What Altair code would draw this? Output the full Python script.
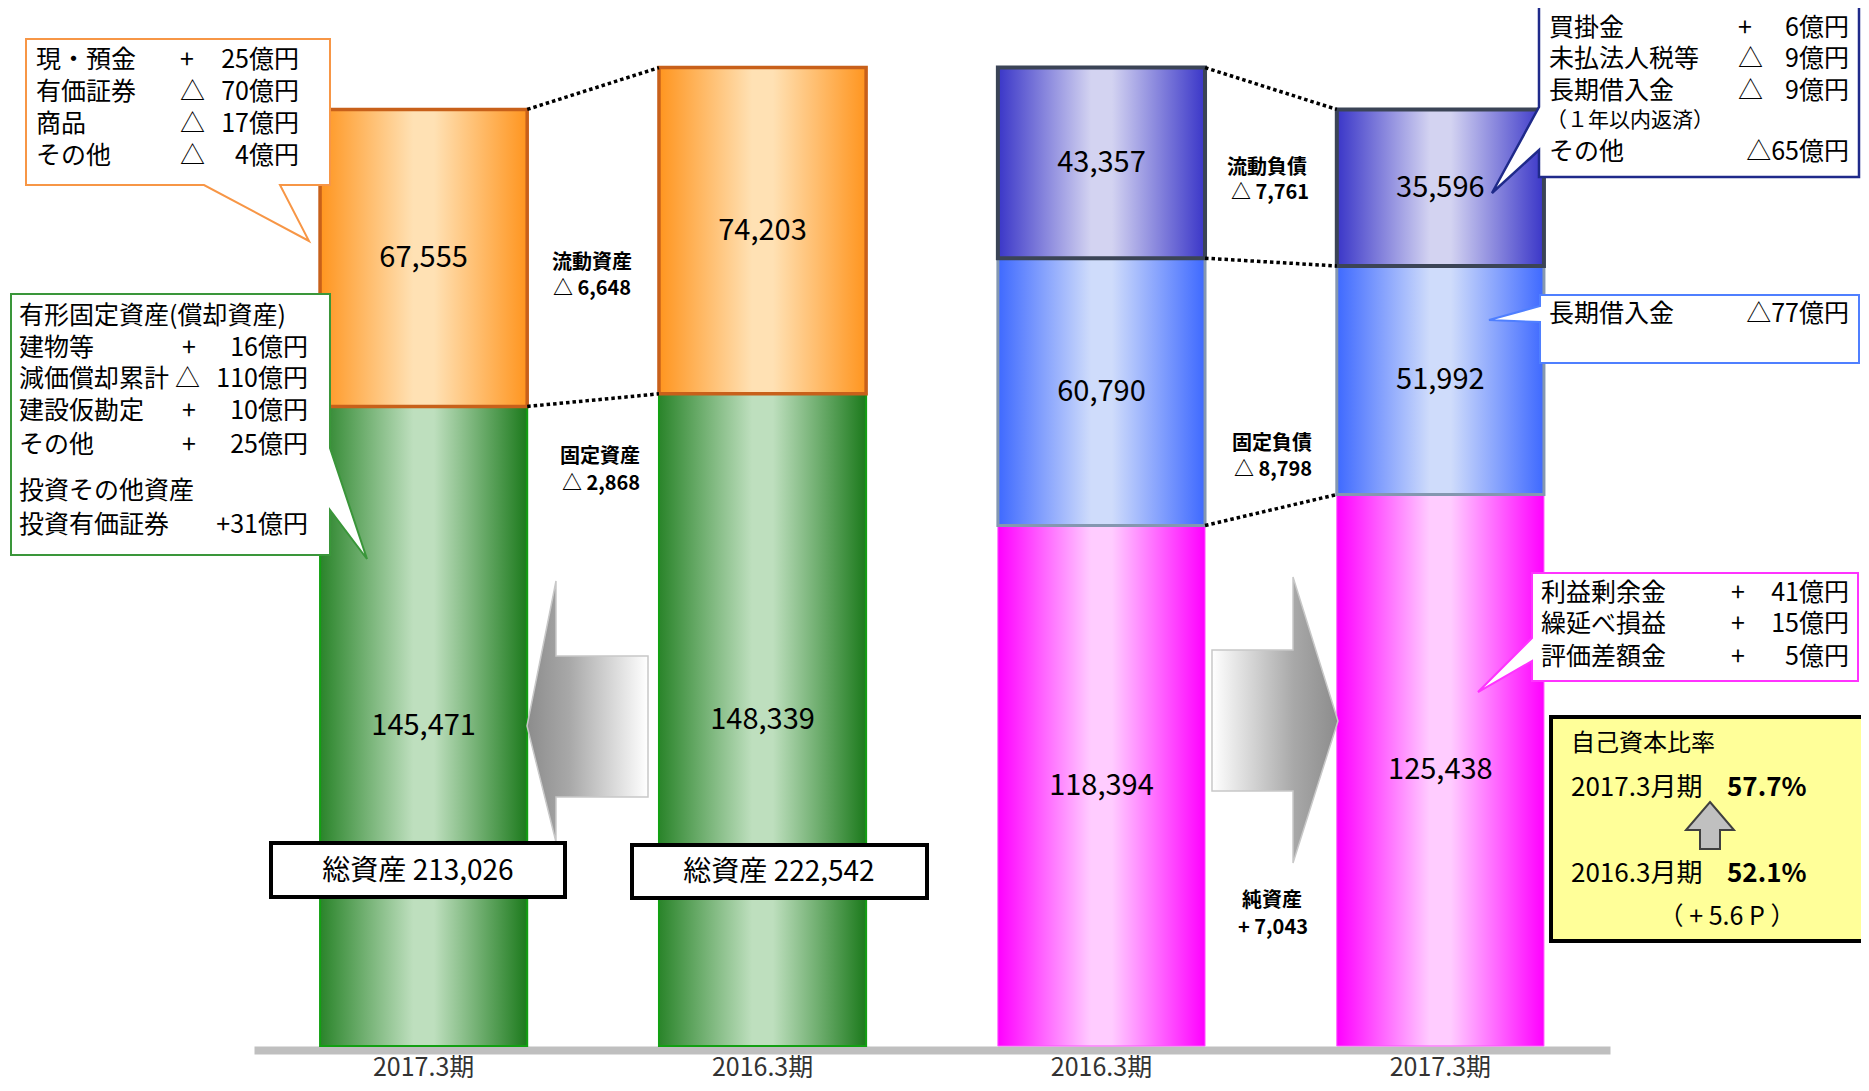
import altair as alt
import pandas as pd

FONT = "Noto Sans CJK JP"

# ---------------- data ----------------
col_keys = ["A17", "A16", "L16", "L17"]
col_labels = ["2017.3期", "2016.3期", "2016.3期", "2017.3期"]

asset_cols = ["A17", "A16"]
fixed_assets = [145471, 148339]
current_assets = [67555, 74203]
total_assets = [213026, 222542]

liab_cols = ["L16", "L17"]
net_assets = [118394, 125438]
fixed_liab = [60790, 51992]
current_liab = [43357, 35596]

# ---------------- stacked segment table ----------------
rows = []
for c, fa, ca in zip(asset_cols, fixed_assets, current_assets):
    rows.append(dict(col=c, seg="fixed_a", y0=0, y1=fa, value=fa))
    rows.append(dict(col=c, seg="current_a", y0=fa, y1=fa + ca, value=ca))
for c, na, fl, cl in zip(liab_cols, net_assets, fixed_liab, current_liab):
    rows.append(dict(col=c, seg="net", y0=0, y1=na, value=na))
    rows.append(dict(col=c, seg="fixed_l", y0=na, y1=na + fl, value=fl))
    rows.append(dict(col=c, seg="current_l", y0=na + fl, y1=na + fl + cl, value=cl))
seg_df = pd.DataFrame(rows)
seg_df["mid"] = (seg_df["y0"] + seg_df["y1"]) / 2

# connector lines between neighbouring bars
conn_df = pd.DataFrame([
    dict(a="A17", b="A16", ya=total_assets[0], yb=total_assets[1]),
    dict(a="A17", b="A16", ya=fixed_assets[0], yb=fixed_assets[1]),
    dict(a="L16", b="L17", ya=net_assets[0] + fixed_liab[0] + current_liab[0],
         yb=net_assets[1] + fixed_liab[1] + current_liab[1]),
    dict(a="L16", b="L17", ya=net_assets[0] + fixed_liab[0], yb=net_assets[1] + fixed_liab[1]),
    dict(a="L16", b="L17", ya=net_assets[0], yb=net_assets[1]),
])

# ---------------- scales ----------------
W, H = 1853, 1038
label_expr = " : ".join(
    f"datum.value == '{k}' ? '{l}'" for k, l in zip(col_keys, col_labels)
) + " : ''"
xscale = alt.Scale(domain=col_keys, range=[246, 1602], paddingInner=0.3888,
                   paddingOuter=0.1949, round=False)
xaxis = alt.Axis(title=None, labelExpr=label_expr, labelFont=FONT, labelFontSize=25,
                 labelColor="#333333", labelPadding=5, ticks=False, tickSize=0,
                 domain=True, domainColor="#BFBFBF", domainWidth=8, offset=4,
                 grid=False, labelAngle=0)
yscale = alt.Scale(domain=[0, 236100], nice=False, zero=True)


def hgrad(edge, mid, edge2=None):
    return alt.LinearGradient(
        gradient="linear", x1=0, x2=1, y1=0, y2=0,
        stops=[alt.GradientStop(color=edge, offset=0),
               alt.GradientStop(color=mid, offset=0.45),
               alt.GradientStop(color=mid, offset=0.55),
               alt.GradientStop(color=edge2 or edge, offset=1)])


seg_styles = [
    ("fixed_a", hgrad("#2A842A", "#BEDFBE", "#1C7A1C"), "#12A012", 2),
    ("current_a", hgrad("#FF951F", "#FFE1B4"), "#C8601A", 3.5),
    ("net", hgrad("#FF00FF", "#FFCCFF"), "#FF55FF", 1),
    ("fixed_l", hgrad("#3E69FF", "#CFDCFB"), "#8497B0", 3),
    ("current_l", hgrad("#3A36C8", "#D3D3F1"), "#3B4456", 4),
]

layers = []
for seg, grad, stroke, sw in seg_styles:
    layers.append(
        alt.Chart(seg_df).transform_filter(alt.datum.seg == seg)
        .mark_bar(fill=grad, stroke=stroke, strokeWidth=sw)
        .encode(x=alt.X("col:N", scale=xscale, axis=xaxis),
                y=alt.Y("y0:Q", scale=yscale, axis=None),
                y2="y1:Q")
    )

# dotted connectors
layers.append(
    alt.Chart(conn_df).mark_rule(color="black", strokeWidth=3.5, strokeDash=[3.5, 3])
    .encode(x=alt.X("a:N", scale=xscale, axis=xaxis, bandPosition=1),
            x2=alt.X2("b:N", bandPosition=0),
            y=alt.Y("ya:Q", scale=yscale, axis=None),
            y2="yb:Q")
)

# ---------------- decorative shapes (page pixel polygons) ----------------
def shape_layer(points, fill, stroke, sw):
    xs = [p[0] for p in points]
    ys = [p[1] for p in points]
    cx = (min(xs) + max(xs)) / 2
    cy = (min(ys) + max(ys)) / 2
    s = max(max(xs) - min(xs), max(ys) - min(ys)) / 2
    path = "M" + " L".join(f"{(x - cx) / s:.4f},{(y - cy) / s:.4f}" for x, y in points) + " Z"
    return (alt.Chart(alt.Data(values=[{"k": 1}]))
            .mark_point(shape=path, size=(2 * s) ** 2, filled=True, fill=fill,
                        stroke=stroke, strokeWidth=sw, opacity=1, fillOpacity=1, strokeOpacity=1)
            .encode(x=alt.value(cx - 8), y=alt.value(cy - 8)))


arrow_left_grad = alt.LinearGradient(gradient="linear", x1=0, x2=1, y1=0, y2=0, stops=[
    alt.GradientStop(color="#8C8C8C", offset=0), alt.GradientStop(color="#A8A8A8", offset=0.35),
    alt.GradientStop(color="#FFFFFF", offset=1)])
arrow_right_grad = alt.LinearGradient(gradient="linear", x1=0, x2=1, y1=0, y2=0, stops=[
    alt.GradientStop(color="#FFFFFF", offset=0), alt.GradientStop(color="#A8A8A8", offset=0.65),
    alt.GradientStop(color="#8C8C8C", offset=1)])

layers += [
    shape_layer([(527, 726), (556, 581), (556, 656), (648, 656), (648, 797), (556, 797), (556, 842)],
                arrow_left_grad, "#C8C8C8", 1.5),
    shape_layer([(1212, 650), (1293, 650), (1293, 577), (1338, 721), (1293, 863), (1293, 791), (1212, 791)],
                arrow_right_grad, "#C8C8C8", 1.5),
    # callouts
    shape_layer([(26, 39), (330, 39), (330, 185), (280, 185), (309, 241), (204, 185), (26, 185)],
                "white", "#F79646", 2),
    shape_layer([(11, 294), (330, 294), (330, 448), (367, 559), (330, 510), (330, 555), (11, 555)],
                "white", "#3A963A", 2),
    shape_layer([(1539, 5), (1859, 5), (1859, 177), (1539, 177), (1539, 150), (1492, 193), (1539, 107)],
                "white", "#1F2A8A", 2.5),
    shape_layer([(1540, 295), (1859, 295), (1859, 363), (1540, 363), (1540, 322), (1489, 320), (1540, 306)],
                "white", "#4F7FFF", 2),
    shape_layer([(1532, 573), (1858, 573), (1858, 681), (1532, 681), (1532, 661), (1478, 692), (1532, 638)],
                "white", "#FF33FF", 2),
    # total asset boxes
    shape_layer([(271, 843), (565, 843), (565, 897), (271, 897)], "white", "black", 4),
    shape_layer([(632, 845), (927, 845), (927, 898), (632, 898)], "white", "black", 4),
    # equity ratio box
    shape_layer([(1551, 717), (1872, 717), (1872, 941), (1551, 941)], "#FFFF99", "black", 4),
    shape_layer([(1710, 802), (1734, 830), (1720, 830), (1720, 849), (1700, 849), (1700, 830), (1686, 830)],
                "#C0C0C0", "#404040", 2),
]

# bar value labels
layers.append(
    alt.Chart(seg_df).mark_text(font=FONT, fontSize=29, color="black", baseline="middle")
    .encode(x=alt.X("col:N", scale=xscale, axis=xaxis),
            y=alt.Y("mid:Q", scale=yscale, axis=None),
            text=alt.Text("value:Q", format=","))
)

# ---------------- annotation texts ----------------
ann = []


def T(text, x, y, size=25, align="left", bold=False):
    ann.append(dict(text=text, px=x - 8, py=y - 8, fs=size, align=align, bold=bold))


# middle change labels
for t, x, y in [("流動資産", 592, 263), ("△ 6,648", 592, 289),
                ("固定資産", 600, 457), ("△ 2,868", 601, 484),
                ("流動負債", 1267, 168), ("△ 7,761", 1270, 193),
                ("固定負債", 1272, 444), ("△ 8,798", 1273, 470),
                ("純資産", 1272, 901), ("+ 7,043", 1273, 928)]:
    T(t, x, y, 20, "center", True)

# callout 1
for (lab, sign, amt), y in zip([("現・預金", "+", "25億円"), ("有価証券", "△", "70億円"),
                                 ("商品", "△", "17億円"), ("その他", "△", "4億円")], [60, 92, 124, 156]):
    T(lab, 36, y)
    T(sign, 180, y)
    T(amt, 299, y, align="right")

# callout 2
T("有形固定資産(償却資産)", 19, 316)
for (lab, sign, amt), y in zip([("建物等", "+", "16億円"), ("減価償却累計", "△", "110億円"),
                                 ("建設仮勘定", "+", "10億円"), ("その他", "+", "25億円")],
                                [348, 379, 411, 445]):
    T(lab, 19, y)
    T(sign, 182 if sign == "+" else 175, y)
    T(amt, 308, y, align="right")
T("投資その他資産", 19, 491)
T("投資有価証券", 19, 525)
T("+31億円", 308, 525, align="right")

# callout 3
for (lab, sign, amt), y in zip([("買掛金", "+", "6億円"), ("未払法人税等", "△", "9億円"),
                                 ("長期借入金", "△", "9億円")], [28, 59, 91]):
    T(lab, 1549, y)
    T(sign, 1738, y)
    T(amt, 1849, y, align="right")
T("（１年以内返済）", 1546, 121, 21)
T("その他", 1549, 152)
T("△65億円", 1849, 152, align="right")

# callout 4
T("長期借入金", 1549, 314)
T("△77億円", 1849, 314, align="right")

# callout 5
for (lab, amt), y in zip([("利益剰余金", "41億円"), ("繰延べ損益", "15億円"), ("評価差額金", "5億円")],
                         [593, 624, 657]):
    T(lab, 1541, y)
    T("+", 1731, y)
    T(amt, 1849, y, align="right")

# total assets
T("総資産 213,026", 418, 872, 28, "center")
T("総資産 222,542", 779, 873, 28, "center")

# equity ratio box
T("自己資本比率", 1571, 744, 24)
T("2017.3月期", 1571, 788, 26)
T("57.7%", 1727, 788, 26, bold=True)
T("2016.3月期", 1571, 874, 26)
T("52.1%", 1727, 874, 26, bold=True)
T("（ + 5.6 P ）", 1727, 917, 25, "center")

ann_df = pd.DataFrame(ann)
for (align, bold), grp in ann_df.groupby(["align", "bold"]):
    layers.append(
        alt.Chart(grp.reset_index(drop=True))
        .mark_text(align=align, baseline="middle", font=FONT, color="black",
                   fontWeight="bold" if bold else "normal")
        .encode(x=alt.X("px:Q", scale=None, axis=None),
                y=alt.Y("py:Q", scale=None, axis=None),
                text="text:N",
                size=alt.Size("fs:Q", scale=None, legend=None))
    )

chart = (
    alt.layer(*layers)
    .properties(width=W, height=H,
                autosize=alt.AutoSizeParams(type="none"),
                padding={"left": 0, "top": 0, "right": 0, "bottom": 37})
    .configure_view(strokeWidth=0)
)

chart.save("out.html", embed_options={"renderer": "svg", "actions": False})
